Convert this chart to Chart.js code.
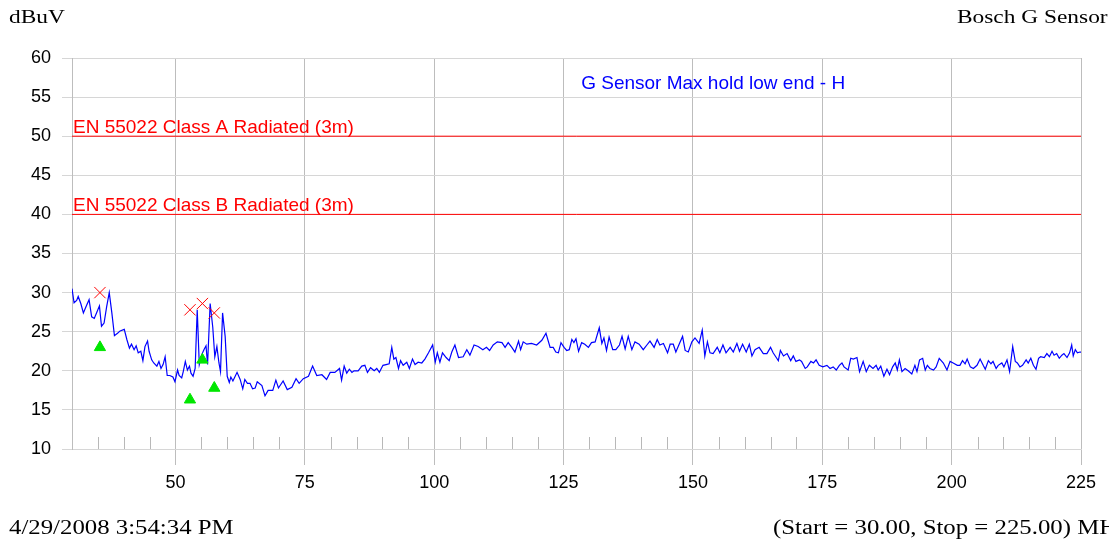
<!DOCTYPE html>
<html>
<head>
<meta charset="utf-8">
<script src="https://cdn.jsdelivr.net/npm/chart.js@4/dist/chart.umd.min.js"></script>
<style>
  html, body { margin: 0; padding: 0; background: #fff; overflow: hidden; }
  #wrap { position: relative; width: 1109px; height: 539px; overflow: hidden; }
  canvas { position: absolute; left: 0; top: 0; }
  .serif { position: absolute; font-family: "Liberation Serif", "Times New Roman", serif; color: #000; white-space: nowrap; transform-origin: 0 0; }
  .head { font-size: 19px; transform: scaleX(1.23); top: 6px; }
  .foot { font-size: 20px; transform: scaleX(1.24); top: 516px; }
</style>
</head>
<body>
<div id="wrap">
  <canvas id="emc" width="1109" height="539"></canvas>
  <div class="serif head" style="left:9px;">dBuV</div>
  <div class="serif head" style="left:957px;">Bosch G Sensor</div>
  <div class="serif foot" style="left:9px;">4/29/2008 3:54:34 PM</div>
  <div class="serif foot" style="left:773px;">(Start = 30.00, Stop = 225.00) MHz</div>
</div>
<script>
// Max hold trace (MHz, dBuV)
const freqMHz = [
  30.0, 30.4, 30.9, 31.2, 31.7, 32.2, 32.7, 33.3, 33.8, 34.3, 34.8, 35.3, 35.7, 36.2, 36.7, 37.2, 37.7, 38.2, 38.8, 39.3,
  40.1, 40.6, 41.1, 41.5, 42.0, 42.4, 42.8, 43.3, 43.7, 44.1, 44.6, 44.9, 45.4, 45.8, 46.4, 46.8, 47.2, 47.6, 48.0, 48.4,
  48.9, 49.5, 49.9, 50.4, 50.7, 51.2, 51.5, 51.9, 52.3, 52.7, 53.0, 53.4, 53.8, 54.2, 54.6, 55.1, 55.5, 55.9, 56.2, 56.7,
  57.2, 57.6, 58.0, 58.4, 58.7, 59.1, 59.6, 60.0, 60.4, 60.7, 61.1, 61.4, 61.9, 62.5, 63.0, 63.4, 63.9, 64.4, 64.9, 65.4,
  65.8, 66.7, 67.3, 67.9, 68.8, 69.4, 69.9, 70.8, 71.6, 72.5, 73.3, 73.9, 74.7, 75.7, 76.5, 77.3, 78.3, 79.2, 79.9, 80.8,
  81.7, 82.1, 82.6, 83.1, 83.6, 84.1, 84.5, 85.3, 86.0, 86.6, 87.1, 87.7, 88.4, 88.9, 89.4, 90.1, 90.7, 91.3, 91.8, 92.2,
  92.6, 93.1, 93.5, 94.0, 94.7, 95.2, 95.8, 96.3, 96.9, 97.6, 98.2, 98.9, 99.7, 100.2, 100.6, 101.1, 101.6, 102.3, 102.9, 103.4,
  104.0, 104.7, 105.6, 106.3, 106.9, 107.7, 108.5, 109.4, 110.1, 110.7, 111.4, 112.2, 113.1, 113.7, 114.3, 115.0, 115.6, 116.3, 116.7, 117.2,
  117.9, 118.8, 119.8, 120.8, 121.6, 122.4, 123.0, 123.5, 124.0, 124.5, 125.1, 125.6, 126.1, 126.6, 127.0, 127.4, 127.9, 128.5, 129.1, 129.8,
  130.4, 131.1, 131.9, 132.4, 132.8, 133.3, 133.8, 134.5, 135.1, 135.8, 136.3, 136.9, 137.5, 138.2, 138.8, 139.6, 140.4, 141.1, 141.7, 142.5,
  143.1, 143.6, 144.3, 145.1, 145.6, 146.2, 146.7, 147.4, 148.0, 148.5, 149.1, 149.8, 150.4, 151.2, 151.8, 152.3, 152.8, 153.3, 153.9, 154.7,
  155.2, 155.8, 156.4, 157.2, 157.8, 158.5, 159.0, 159.6, 160.3, 160.9, 161.4, 162.0, 162.8, 163.6, 164.3, 165.0, 165.5, 166.2, 166.5, 166.9,
  167.5, 168.2, 168.9, 169.4, 169.9, 170.6, 171.0, 171.7, 172.1, 172.8, 173.3, 173.8, 174.4, 175.1, 175.9, 176.5, 177.1, 177.7, 178.3, 178.8,
  179.2, 180.0, 180.5, 181.0, 181.7, 182.2, 182.9, 183.5, 184.1, 184.8, 185.4, 185.8, 186.3, 186.9, 187.5, 188.0, 188.6, 189.1, 189.5, 189.9,
  190.4, 191.0, 191.6, 192.3, 192.9, 193.3, 193.8, 194.4, 194.9, 195.3, 195.8, 196.5, 197.0, 197.6, 198.4, 199.1, 199.7, 200.3, 201.1, 201.6,
  202.1, 202.6, 203.0, 203.6, 204.2, 204.9, 205.5, 206.1, 206.5, 207.1, 207.6, 208.0, 208.6, 209.0, 209.7, 210.1, 210.7, 211.2, 211.8, 212.3,
  212.7, 213.2, 213.7, 214.4, 214.8, 215.3, 215.8, 216.3, 216.8, 217.2, 217.9, 218.4, 218.9, 219.4, 219.8, 220.3, 220.8, 221.3, 221.7, 222.3,
  222.8, 223.2, 223.5, 223.9, 224.3, 224.8, 225.0
];
const levelDbuv = [
  30.5, 28.7, 29.0, 29.5, 28.6, 27.4, 28.2, 29.1, 26.9, 26.7, 27.5, 28.3, 25.7, 26.1, 28.2, 30.0, 27.4, 24.5, 24.8, 25.1,
  25.3, 24.0, 22.9, 23.4, 22.7, 23.2, 22.3, 22.5, 21.3, 23.1, 23.8, 22.5, 21.4, 21.0, 20.6, 21.2, 20.3, 20.8, 21.8, 19.4,
  19.4, 19.2, 18.6, 20.1, 19.4, 19.1, 19.9, 21.2, 20.1, 20.6, 19.7, 19.3, 20.3, 27.8, 20.8, 22.1, 22.7, 23.2, 20.8, 28.6,
  25.6, 21.8, 23.1, 21.0, 19.9, 27.4, 24.4, 19.3, 18.5, 19.2, 18.7, 19.1, 19.8, 18.9, 17.7, 18.9, 18.4, 18.4, 17.7, 17.8,
  18.6, 18.1, 16.8, 17.5, 17.5, 18.8, 17.8, 18.7, 17.6, 17.9, 19.0, 18.4, 19.0, 19.3, 20.6, 19.4, 19.5, 18.9, 19.8, 19.8,
  20.3, 18.8, 20.6, 19.7, 20.2, 19.8, 20.0, 20.0, 20.6, 20.7, 19.8, 20.4, 20.0, 20.3, 19.8, 20.7, 20.8, 20.9, 23.0, 21.5,
  21.7, 20.3, 21.3, 20.7, 21.1, 20.3, 21.5, 20.8, 21.1, 21.0, 21.5, 22.3, 23.3, 21.1, 22.3, 21.1, 22.3, 21.7, 21.3, 22.4,
  23.3, 21.7, 21.8, 22.7, 22.0, 23.3, 23.1, 22.7, 23.0, 22.6, 23.3, 23.7, 23.6, 23.0, 23.6, 23.0, 22.4, 23.8, 22.7, 23.7,
  23.4, 23.5, 23.3, 23.9, 24.8, 23.0, 23.0, 22.4, 22.3, 23.6, 23.0, 22.6, 22.7, 24.0, 23.6, 24.1, 22.5, 23.6, 23.4, 23.0,
  23.6, 23.7, 25.5, 23.5, 24.2, 22.6, 24.3, 22.7, 22.7, 23.3, 24.4, 22.8, 24.4, 22.7, 23.7, 23.4, 22.7, 23.3, 23.8, 23.0,
  24.0, 23.3, 23.5, 22.3, 23.4, 23.4, 22.4, 23.5, 24.4, 22.6, 22.4, 23.7, 24.2, 23.5, 25.2, 21.9, 23.7, 22.3, 22.2, 23.0,
  22.3, 23.3, 22.3, 23.0, 22.4, 23.5, 22.5, 23.4, 22.4, 23.4, 21.9, 22.7, 23.0, 22.2, 22.2, 23.0, 22.3, 21.6, 21.3, 22.6,
  21.9, 22.2, 21.3, 21.9, 21.2, 21.4, 21.2, 20.3, 20.5, 21.2, 21.0, 21.4, 20.7, 20.5, 20.7, 20.3, 20.5, 20.1, 20.7, 21.0,
  20.5, 20.1, 21.6, 21.5, 21.7, 19.9, 21.2, 19.9, 20.7, 20.3, 20.7, 20.1, 20.6, 19.3, 20.2, 19.5, 20.5, 21.0, 20.1, 21.4,
  19.9, 20.3, 20.0, 19.6, 20.7, 19.9, 21.4, 21.6, 20.1, 20.7, 20.3, 20.1, 20.5, 21.6, 21.0, 20.1, 21.2, 21.0, 20.7, 20.7,
  21.3, 20.9, 21.5, 20.5, 20.3, 20.7, 21.5, 20.7, 20.2, 21.3, 20.9, 21.2, 20.3, 20.7, 21.0, 20.5, 21.4, 19.9, 23.1, 21.2,
  21.0, 20.5, 20.7, 21.4, 21.0, 21.6, 20.7, 20.2, 21.6, 21.8, 21.7, 22.2, 21.8, 22.5, 22.0, 22.2, 21.6, 22.0, 22.2, 21.7,
  22.3, 23.3, 21.9, 22.7, 22.3, 22.4, 22.4
];

// Peak (X) and average (triangle) markers
const peakFreq = [35.4, 52.8, 55.2, 57.5];
const peakLevel = [30.0, 27.8, 28.6, 27.4];
const avgFreq = [35.4, 52.8, 55.2, 57.5];
const avgLevel = [23.0, 16.3, 21.4, 17.8];

// Limit lines
const limitNames = ['EN 55022 Class A Radiated (3m)', 'EN 55022 Class B Radiated (3m)'];
const limitLevels = [50, 40];
const freqStart = 30;
const freqStop = 225;

// Axes
const xTickValues = [50, 75, 100, 125, 150, 175, 200, 225];
const yTickValues = [10, 15, 20, 25, 30, 35, 40, 45, 50, 55, 60];
const traceTitle = 'G Sensor Max hold low end - H';

const toPoints = (xs, ys) => xs.map((v, i) => ({ x: v, y: ys[i] }));

const limitSets = limitLevels.map((lvl, i) => ({
    label: limitNames[i],
    data: [{ x: freqStart, y: lvl }, { x: freqStop, y: lvl }],
    borderColor: '#ff0000',
    borderWidth: 1,
    pointRadius: 0,
    order: 3
}));

// minor ticks + text labels drawn over the plot
const extras = {
    id: 'extras',
    beforeDatasetsDraw(chart) {
        const { ctx, scales: { x, y } } = chart;
        const yBase = y.getPixelForValue(10);
        ctx.save();
        ctx.strokeStyle = '#b8b8b8';
        ctx.lineWidth = 1;
        for (let f = freqStart + 5; f < freqStop; f += 5) {
            if (xTickValues.includes(f)) continue;
            const px = Math.round(x.getPixelForValue(f)) + 0.5;
            ctx.beginPath();
            ctx.moveTo(px, yBase);
            ctx.lineTo(px, yBase - 12);
            ctx.stroke();
        }
        ctx.restore();
    },
    afterDraw(chart) {
        const { ctx, scales: { x, y } } = chart;
        ctx.save();
        ctx.font = '19px "Liberation Sans", Arial, sans-serif';
        ctx.textBaseline = 'alphabetic';
        ctx.fillStyle = '#ff0000';
        limitLevels.forEach((lvl, i) => {
            ctx.fillText(limitNames[i], x.getPixelForValue(freqStart) + 1, y.getPixelForValue(lvl) - 3);
        });
        ctx.fillStyle = '#0000ff';
        ctx.fillText(traceTitle, x.getPixelForValue(128.4), y.getPixelForValue(56.0));
        ctx.restore();
    }
};

new Chart(document.getElementById('emc'), {
    type: 'line',
    data: {
        datasets: [
            {
                label: 'Peak',
                data: toPoints(peakFreq, peakLevel),
                showLine: false,
                pointStyle: 'crossRot',
                pointRadius: 8,
                borderColor: '#ff0000',
                borderWidth: 1,
                order: 0
            },
            {
                label: 'Average',
                data: toPoints(avgFreq, avgLevel),
                showLine: false,
                pointStyle: 'triangle',
                pointRadius: 6.5,
                backgroundColor: '#00e600',
                borderColor: '#00e600',
                borderWidth: 1,
                order: 1
            },
            {
                label: traceTitle,
                data: toPoints(freqMHz, levelDbuv),
                borderColor: '#0000ff',
                borderWidth: 1.2,
                pointRadius: 0,
                tension: 0,
                order: 2
            },
            ...limitSets
        ]
    },
    options: {
        responsive: false,
        animation: false,
        devicePixelRatio: 1,
        layout: { padding: { left: 0, right: 28, top: 58, bottom: 40 } },
        plugins: {
            legend: { display: false },
            tooltip: { enabled: false },
            title: { display: false }
        },
        scales: {
            x: {
                type: 'linear',
                min: freqStart,
                max: freqStop,
                afterBuildTicks: s => { s.ticks = xTickValues.map(v => ({ value: v })); },
                afterFit: s => { s.height = 50; },
                grid: { color: '#bdbdbd', tickLength: 16, lineWidth: 1 },
                border: { display: true, color: '#d6d6d6' },
                ticks: {
                    padding: 7,
                    color: '#000',
                    font: { family: '"Liberation Sans", Arial, sans-serif', size: 18 },
                    maxRotation: 0
                }
            },
            y: {
                type: 'linear',
                min: 10,
                max: 60,
                afterBuildTicks: s => { s.ticks = yTickValues.map(v => ({ value: v })); },
                afterFit: s => { s.width = 72; },
                grid: { color: '#d6d6d6', tickLength: 10, lineWidth: 1 },
                border: { display: true, color: '#bdbdbd' },
                ticks: {
                    padding: 11,
                    color: '#000',
                    font: { family: '"Liberation Sans", Arial, sans-serif', size: 18 }
                }
            }
        }
    },
    plugins: [extras]
});
</script>
</body>
</html>
